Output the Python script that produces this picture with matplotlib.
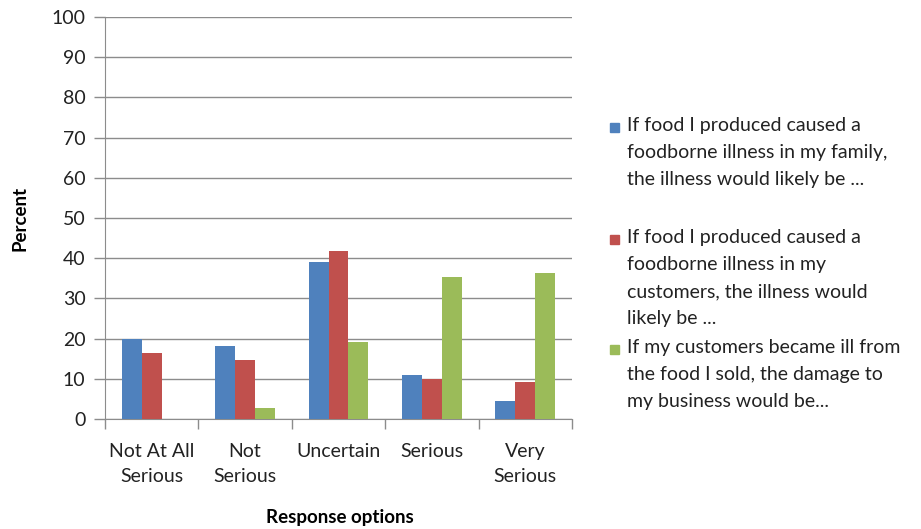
import numpy as np
import matplotlib.pyplot as plt

categories = ["Not At All\nSerious", "Not\nSerious", "Uncertain", "Serious", "Very\nSerious"]
family_illness = [20.0, 18.2, 39.0, 10.9, 4.5]
customer_illness = [16.3, 14.6, 41.8, 10.0, 9.2]
business_damage = [0.0, 2.8, 19.2, 35.3, 36.3]

labels = [
    "If food I produced caused a\nfoodborne illness in my family,\nthe illness would likely be ...",
    "If food I produced caused a\nfoodborne illness in my\ncustomers, the illness would\nlikely be ...",
    "If my customers became ill from\nthe food I sold, the damage to\nmy business would be...",
]
colors = ["#4f81bd", "#c0504d", "#9bbb59"]

plt.rcParams["font.family"] = ["Lato", "DejaVu Sans"]

fig = plt.figure(figsize=(9.21, 5.29), dpi=100)
ax = fig.add_axes([105 / 921, 1 - 419 / 529, (572 - 105) / 921, (419 - 17) / 529])

x = np.arange(len(categories))
w = 0.214
series = [family_illness, customer_illness, business_damage]
for i, (vals, c) in enumerate(zip(series, colors)):
    ax.bar(x + (i - 1) * w, vals, w, color=c, zorder=3)

ax.set_xlim(-0.5, len(categories) - 0.5)
ax.set_ylim(0, 100)
ax.set_yticks(range(0, 101, 10))
ax.yaxis.grid(True, color="#8c8c8c", linewidth=1, zorder=0)
ax.set_xticks(np.arange(-0.5, len(categories), 1.0))
ax.set_xticklabels([])
ax.set_xticks(x, minor=True)
ax.set_xticklabels(categories, minor=True, fontsize=14, color="#222222", linespacing=1.6)
ax.tick_params(axis="x", which="major", length=7, color="#8c8c8c", width=1)
ax.tick_params(axis="x", which="minor", length=0, pad=17)
ax.tick_params(axis="y", length=8, color="#8c8c8c", width=1, labelsize=14, labelcolor="#222222", pad=6)

for side in ["top", "right"]:
    ax.spines[side].set_visible(False)
for side in ["left", "bottom"]:
    ax.spines[side].set_color("#8c8c8c")

fig.text(20 / 921, 1 - 218 / 529, "Percent", rotation=90, fontsize=13.5, fontweight="bold",
         ha="center", va="center")
fig.text(340 / 921, 1 - 517 / 529, "Response options", fontsize=13.5, fontweight="bold",
         ha="center", va="center")

# legend drawn by hand so the marker sits on the first line of each entry
entry_tops = [117, 229, 339]
for lab, c, top in zip(labels, colors, entry_tops):
    fig.patches.append(plt.Rectangle((610 / 921, 1 - (top + 15) / 529), 9 / 921, 9 / 529,
                                     transform=fig.transFigure, color=c))
    fig.text(627 / 921, 1 - top / 529, lab, fontsize=14, va="top", ha="left",
             color="#222222", linespacing=1.72)

fig.savefig("out.png", dpi=100)
